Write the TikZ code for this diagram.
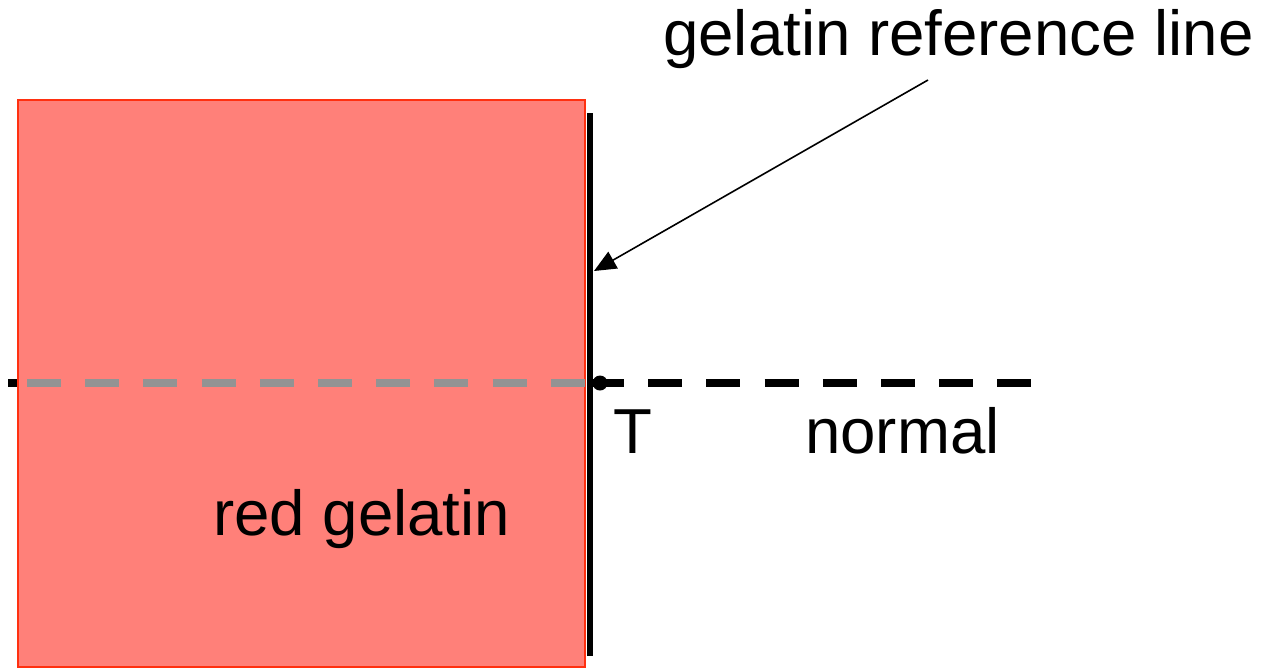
\documentclass[tikz,border=0pt]{standalone}
\usepackage{fontspec}
\setmainfont{Liberation Sans}
\usetikzlibrary{arrows.meta}
\definecolor{gelfill}{RGB}{255,128,121}
\definecolor{gelborder}{RGB}{255,48,16}
\definecolor{dashgray}{RGB}{147,147,147}
\begin{document}
\begin{tikzpicture}[x=1pt,y=-1pt,
  lbl/.style={anchor=base west,inner sep=0pt,font=\fontsize{63.6}{70}\selectfont},
  normline/.style={line width=8pt,dash pattern=on 34pt off 24.2pt},
  refline/.style={line width=6.5pt},
  pointer/.style={line width=1.6pt,-{Triangle[length=22pt,width=19pt]}}]
\useasboundingbox (0,0) rectangle (1268,670);
% normal line (black)
\coordinate (nL) at (8,383);
\coordinate (nR) at (1032,383);
\draw[normline,black] (nL) -- (nR);
% gelatin block
\path[fill=gelfill,draw=gelborder,line width=2pt] (18,100) rectangle (585,667);
% gray part of normal over block
\coordinate (gL) at (27,383);
\coordinate (gR) at (585,383);
\draw[normline,dashgray] (gL) -- (gR);
% reference line
\coordinate (rT) at (590,113);
\coordinate (rB) at (590,656);
\draw[refline] (rT) -- (rB);
% point T
\fill (600,383) circle (7.5pt) coordinate (Tpt);
% labels
\node[lbl] (title) at (663,55) {gelatin reference line};
\node[lbl] (red) at (213,535) {red gelatin};
\node[lbl] (T) at (613,453) {T};
\node[lbl] (normal) at (805,453) {normal};
% pointer
\coordinate (aS) at (928,80);
\coordinate (aE) at (594,271);
\draw[pointer] (aS) -- (aE);
\end{tikzpicture}
\end{document}
